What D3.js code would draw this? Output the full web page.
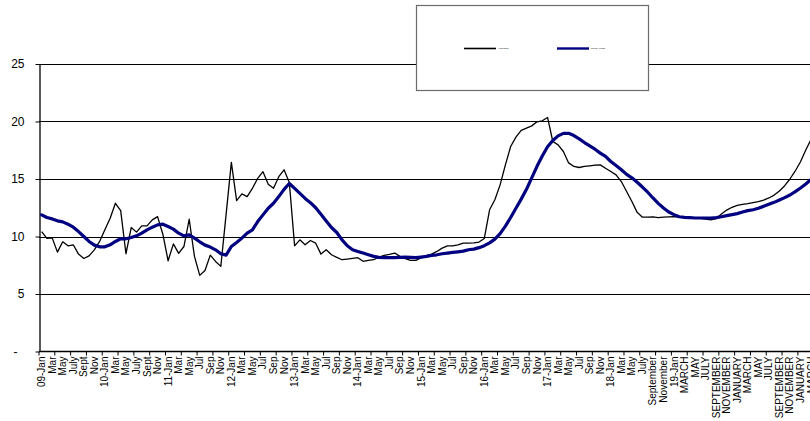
<!DOCTYPE html>
<html>
<head>
<meta charset="utf-8">
<script src="https://cdn.jsdelivr.net/npm/d3@7"></script>
<style>
  body { margin: 0; background: #fff; }
  svg { display: block; background: #fff; }
  text { font-family: "Liberation Sans", Arial, sans-serif; fill: #000; }
</style>
</head>
<body>
<svg id="chart" width="810" height="421"></svg>
<script>
// Axis labels, one for every second month starting Jan 2009
const tickLabels = [
  "09-Jan","Mar","May","July","Sept","Nov",
  "10-Jan","Mar","May","July","Sept","Nov",
  "11-Jan","Mar","May","Jul","Sep","Nov",
  "12-Jan","Mar","May","Jul","Sep","Nov",
  "13-Jan","Mar","May","Jul","Sep","Nov",
  "14-Jan","Mar","May","Jul","Sep","Nov",
  "15-Jan","Mar","May","Jul","Sep","Nov",
  "16-Jan","Mar","May","Jul","Sep","Nov",
  "17-Jan","Mar","May","Jul","Sep","Nov",
  "18-Jan","Mar","May","July","September","November",
  "19-Jan","MARCH","MAY","JULY","SEPTEMBER","NOVEMBER",
  "JANUARY","MARCH","MAY","JULY","SEPTEMBER","NOVEMBER",
  "JANUARY","MARCH"
];

// Monthly values, Jan 2009 onwards
const actual = [
  10.43, 9.83, 9.88, 8.64, 9.54, 9.19, 9.28, 8.47, 8.09, 8.32, 8.84, 9.57,
  10.58, 11.59, 12.89, 12.25, 8.50, 10.78, 10.38, 10.92, 10.92, 11.45, 11.73, 10.20,
  7.89, 9.36, 8.53, 9.13, 11.50, 8.27, 6.62, 7.05, 8.38, 7.83, 7.40, 11.90,
  16.45, 13.12, 13.70, 13.47, 14.19, 15.06, 15.64, 14.54, 14.19, 15.20, 15.80, 14.70,
  9.19, 9.71, 9.28, 9.65, 9.42, 8.47, 8.85, 8.41, 8.18, 7.98, 8.04, 8.10,
  8.16, 7.84, 7.92, 7.98, 8.21, 8.36, 8.44, 8.56, 8.27, 8.07, 7.92, 7.92,
  8.13, 8.33, 8.47, 8.70, 8.99, 9.19, 9.19, 9.28, 9.42, 9.42, 9.45, 9.52,
  9.83, 12.32, 13.19, 14.49, 16.23, 17.83, 18.64, 19.22, 19.42, 19.62, 19.97, 20.06,
  20.35, 18.26, 17.97, 17.39, 16.40, 16.09, 16.00, 16.09, 16.14, 16.20, 16.23, 15.94,
  15.65, 15.36, 14.78, 13.91, 13.04, 12.10, 11.68, 11.68, 11.70, 11.65, 11.68, 11.70,
  11.72, 11.68, 11.65, 11.60, 11.60, 11.58, 11.52, 11.45, 11.55, 11.96, 12.30, 12.54,
  12.71, 12.80, 12.86, 12.94, 13.03, 13.17, 13.35, 13.60, 13.96, 14.42, 15.00, 15.70,
  16.50, 17.52, 18.45
];

const average = [
  11.88, 11.65, 11.53, 11.36, 11.27, 11.07, 10.81, 10.43, 10.00, 9.57, 9.25, 9.10,
  9.10, 9.28, 9.57, 9.80, 9.80, 9.91, 10.06, 10.29, 10.58, 10.81, 11.01, 11.07,
  10.87, 10.64, 10.29, 10.06, 10.14, 9.86, 9.54, 9.25, 9.08, 8.84, 8.50, 8.38,
  9.13, 9.48, 9.86, 10.29, 10.58, 11.30, 11.88, 12.46, 12.89, 13.47, 14.10, 14.61,
  14.18, 13.75, 13.31, 12.94, 12.50, 11.93, 11.35, 10.78, 10.35, 9.71, 9.19, 8.85,
  8.70, 8.56, 8.41, 8.27, 8.18, 8.16, 8.16, 8.16, 8.18, 8.21, 8.18, 8.16,
  8.21, 8.27, 8.36, 8.41, 8.50, 8.56, 8.62, 8.67, 8.73, 8.85, 8.90, 9.03,
  9.20, 9.45, 9.77, 10.25, 10.90, 11.65, 12.45, 13.25, 14.10, 15.10, 16.10, 17.00,
  17.80, 18.35, 18.75, 18.97, 18.97, 18.78, 18.49, 18.17, 17.88, 17.59, 17.25, 16.96,
  16.52, 16.17, 15.80, 15.40, 15.10, 14.72, 14.30, 13.85, 13.35, 12.88, 12.48, 12.13,
  11.90, 11.72, 11.67, 11.64, 11.61, 11.61, 11.61, 11.61, 11.64, 11.72, 11.81, 11.90,
  11.99, 12.13, 12.25, 12.33, 12.45, 12.62, 12.80, 12.97, 13.17, 13.38, 13.61, 13.90,
  14.22, 14.57, 14.97
];

const seriesNames = ["Actual Data", "Moving Average"];
const yTicks = [0, 5, 10, 15, 20, 25];

(function drawChart() {
  const svg = d3.select("#chart");
  const plotLeft = 39, plotTop = 64, plotBottom = 351.5, monthW = 5.27;
  const n = actual.length;

  const x = d3.scaleBand()
    .domain(d3.range(n))
    .range([plotLeft, plotLeft + n * monthW])
    .paddingInner(0).paddingOuter(0);
  const y = d3.scaleLinear().domain([0, 25]).range([plotBottom, plotTop]);
  const cx = i => x(i) + x.bandwidth() / 2;
  const plotRight = x.range()[1];

  // horizontal gridlines
  svg.append("g")
    .selectAll("line")
    .data(yTicks.filter(v => v > 0))
    .join("line")
    .attr("x1", plotLeft).attr("x2", plotRight)
    .attr("y1", d => Math.round(y(d)) + 0.5).attr("y2", d => Math.round(y(d)) + 0.5)
    .attr("stroke", "#000").attr("stroke-width", 1);

  // y axis
  const yAxis = svg.append("g")
    .attr("transform", `translate(${plotLeft + 0.5},0)`)
    .call(d3.axisLeft(y)
      .tickValues(yTicks)
      .tickSize(4)
      .tickSizeOuter(0)
      .tickPadding(11)
      .tickFormat(d => d === 0 ? "-" : d));
  yAxis.select(".domain").attr("stroke", "#000").attr("stroke-width", 1.3);
  yAxis.selectAll(".tick line").attr("stroke", "#000");
  yAxis.selectAll(".tick text")
    .attr("font-size", 12)
    .attr("font-family", "Liberation Sans, Arial, sans-serif")
    .attr("fill", "#000");
  yAxis.selectAll(".tick").filter(d => d === 0).select("text").attr("x", -22);

  // x axis: baseline, tick marks every quarter, labels every second month
  const xAxis = svg.append("g");
  xAxis.append("line")
    .attr("x1", plotLeft).attr("x2", plotRight)
    .attr("y1", y(0)).attr("y2", y(0))
    .attr("stroke", "#000").attr("stroke-width", 1.3);

  xAxis.selectAll("line.tick")
    .data(d3.range(0, n, 3))
    .join("line")
    .attr("class", "tick")
    .attr("x1", d => x(d)).attr("x2", d => x(d))
    .attr("y1", y(0)).attr("y2", y(0) + 4)
    .attr("stroke", "#000").attr("stroke-width", 1);

  xAxis.selectAll("text")
    .data(tickLabels)
    .join("text")
    .attr("transform", (d, k) => `translate(${cx(k * 2)},${y(0) + 5}) rotate(-90)`)
    .attr("text-anchor", "end")
    .attr("dy", "0.35em")
    .attr("font-size", 10)
    .text(d => d);

  // series lines
  const line = d3.line().x((d, i) => cx(i)).y(d => y(d));

  svg.append("path")
    .datum(actual)
    .attr("d", line)
    .attr("fill", "none")
    .attr("stroke", "#000")
    .attr("stroke-width", 1.3)
    .attr("stroke-linejoin", "round");

  svg.append("path")
    .datum(average)
    .attr("d", line)
    .attr("fill", "none")
    .attr("stroke", "#000080")
    .attr("stroke-width", 3.2)
    .attr("stroke-linejoin", "round")
    .attr("stroke-linecap", "round");

  // legend
  const legend = svg.append("g");
  legend.append("rect")
    .attr("x", 416.5).attr("y", 5.5)
    .attr("width", 232).attr("height", 85)
    .attr("fill", "#fff")
    .attr("stroke", "#6b6b6b").attr("stroke-width", 1.2);

  const legendItems = [
    { name: seriesNames[0], color: "#000", width: 1.6, x0: 464 },
    { name: seriesNames[1], color: "#000080", width: 2.4, x0: 557 }
  ];
  legendItems.forEach(it => {
    legend.append("line")
      .attr("x1", it.x0).attr("x2", it.x0 + 32)
      .attr("y1", 48.5).attr("y2", 48.5)
      .attr("stroke", it.color).attr("stroke-width", it.width);
    legend.append("text")
      .attr("x", it.x0 + 34).attr("y", 48.5)
      .attr("dy", "0.35em")
      .attr("font-size", 2)
      .attr("fill", "#555")
      .text(it.name);
  });
})();
</script>
</body>
</html>
